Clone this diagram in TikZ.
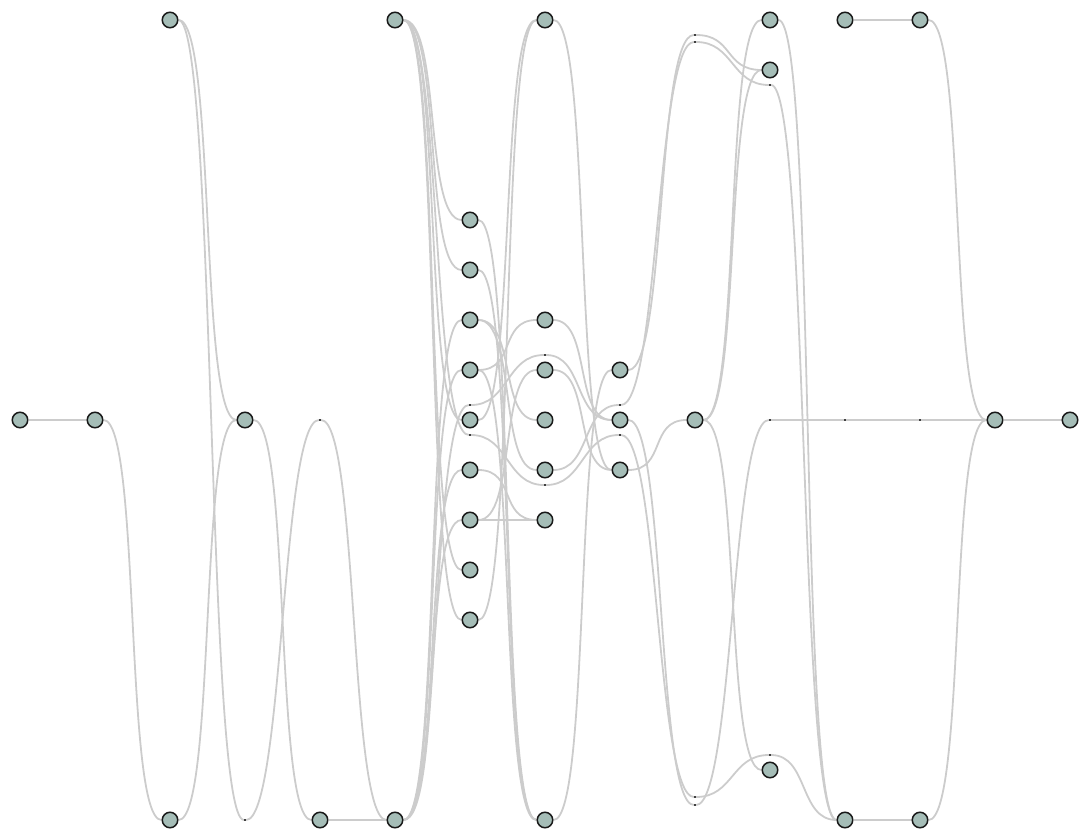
\documentclass[tikz,border=0pt]{standalone}
\usetikzlibrary{backgrounds}
\definecolor{vfill}{RGB}{165,189,183}
\definecolor{vline}{RGB}{26,26,26}
\definecolor{elink}{RGB}{204,204,204}
\tikzset{
  vertex/.style={circle,draw=vline,line width=1.5pt,fill=vfill,minimum size=15.5pt,inner sep=0pt},
  kink/.style={inner sep=0pt,minimum size=1.8pt,fill=black!75},
  link/.style={draw=elink,line width=1.8pt,out=0,in=180,distance=37.5pt}
}
\begin{document}
\begin{tikzpicture}[x=1pt,y=-1pt]
  \useasboundingbox (0,0) rectangle (1090,840);
  \node[vertex] (n0) at (20,420) {};
  \node[vertex] (n1) at (95,420) {};
  \node[vertex] (n2t) at (170,20) {};
  \node[vertex] (n2b) at (170,820) {};
  \node[vertex] (n3) at (245,420) {};
  \node[kink] (d3) at (245,820) {};
  \node[vertex] (n4) at (320,820) {};
  \node[kink] (d4) at (320,420) {};
  \node[vertex] (n5t) at (395,20) {};
  \node[vertex] (n5b) at (395,820) {};
  \node[vertex] (n6a) at (470,220) {};
  \node[vertex] (n6b) at (470,270) {};
  \node[vertex] (n6c) at (470,320) {};
  \node[vertex] (n6d) at (470,370) {};
  \node[vertex] (n6e) at (470,420) {};
  \node[vertex] (n6f) at (470,470) {};
  \node[vertex] (n6g) at (470,520) {};
  \node[vertex] (n6h) at (470,570) {};
  \node[vertex] (n6i) at (470,620) {};
  \node[kink] (d6a) at (470,405) {};
  \node[kink] (d6b) at (470,435) {};
  \node[vertex] (n7t) at (545,20) {};
  \node[vertex] (n7a) at (545,320) {};
  \node[vertex] (n7b) at (545,370) {};
  \node[vertex] (n7c) at (545,420) {};
  \node[vertex] (n7d) at (545,470) {};
  \node[vertex] (n7e) at (545,520) {};
  \node[vertex] (n7z) at (545,820) {};
  \node[kink] (d7a) at (545,355) {};
  \node[kink] (d7b) at (545,485) {};
  \node[vertex] (n8a) at (620,370) {};
  \node[vertex] (n8b) at (620,420) {};
  \node[vertex] (n8c) at (620,470) {};
  \node[kink] (d8a) at (620,405) {};
  \node[kink] (d8b) at (620,435) {};
  \node[vertex] (n9) at (695,420) {};
  \node[kink] (d9a) at (695,35) {};
  \node[kink] (d9b) at (695,42) {};
  \node[kink] (d9c) at (695,797) {};
  \node[kink] (d9d) at (695,805) {};
  \node[vertex] (n10a) at (770,20) {};
  \node[vertex] (n10b) at (770,70) {};
  \node[vertex] (n10c) at (770,770) {};
  \node[kink] (d10a) at (770,85) {};
  \node[kink] (d10b) at (770,420) {};
  \node[kink] (d10c) at (770,755) {};
  \node[vertex] (n11t) at (845,20) {};
  \node[vertex] (n11b) at (845,820) {};
  \node[kink] (d11) at (845,420) {};
  \node[vertex] (n12t) at (920,20) {};
  \node[vertex] (n12b) at (920,820) {};
  \node[kink] (d12) at (920,420) {};
  \node[vertex] (n13) at (995,420) {};
  \node[vertex] (n14) at (1070,420) {};
  \begin{scope}[on background layer]
    \draw[link] (n0) -- (n1);
    \draw[link] (n1) to (n2b);
    \draw[link] (n2t) to (n3);
    \draw[link] (n2t) to (d3) to (d4) to (n5b);
    \draw[link] (n2b) to (n3);
    \draw[link] (n3) to (n4);
    \draw[link] (n4) -- (n5b);
    \draw[link] (n5t) to (n6a);
    \draw[link] (n5t) to (n6b);
    \draw[link] (n5t) to (n6e);
    \draw[link] (n5t) to (n6h);
    \draw[link] (n5t) to (n6i);
    \draw[link] (n5t) to (d6b) to (d7b) to (d8b) to (d9c) to (d10c) to (n11b);
    \draw[link] (n5b) to (n6c);
    \draw[link] (n5b) to (n6d);
    \draw[link] (n5b) to (n6f);
    \draw[link] (n5b) to (n6g);
    \draw[link] (n5b) to (d6a) to (d7a) to (n8b);
    \draw[link] (n6a) to (n7z);
    \draw[link] (n6b) to (n7z);
    \draw[link] (n6c) to (n7c);
    \draw[link] (n6c) to (n7d);
    \draw[link] (n6d) to (n7a);
    \draw[link] (n6d) to (n7z);
    \draw[link] (n6e) to (n7t);
    \draw[link] (n6f) to (n7e);
    \draw[link] (n6g) -- (n7e);
    \draw[link] (n6g) to (n7b);
    \draw[link] (n6i) to (n7t);
    \draw[link] (n7t) to (n8c);
    \draw[link] (n7a) to (n8b);
    \draw[link] (n7b) to (n8c);
    \draw[link] (n7d) to (d8a) to (d9b) to (d10a) to (n11b);
    \draw[link] (n7z) to (n8a);
    \draw[link] (n8a) to (d9a) to (n10b);
    \draw[link] (n8b) to (d9d) to (d10b) to (d11) to (d12) to (n13);
    \draw[link] (n8c) to (n9);
    \draw[link] (n9) to (n10a);
    \draw[link] (n9) to (n10b);
    \draw[link] (n9) to (n10c);
    \draw[link] (n10a) to (n11b);
    \draw[link] (n11t) -- (n12t);
    \draw[link] (n12t) to (n13);
    \draw[link] (n11b) -- (n12b);
    \draw[link] (n12b) to (n13);
    \draw[link] (n13) -- (n14);
  \end{scope}
\end{tikzpicture}
\end{document}
